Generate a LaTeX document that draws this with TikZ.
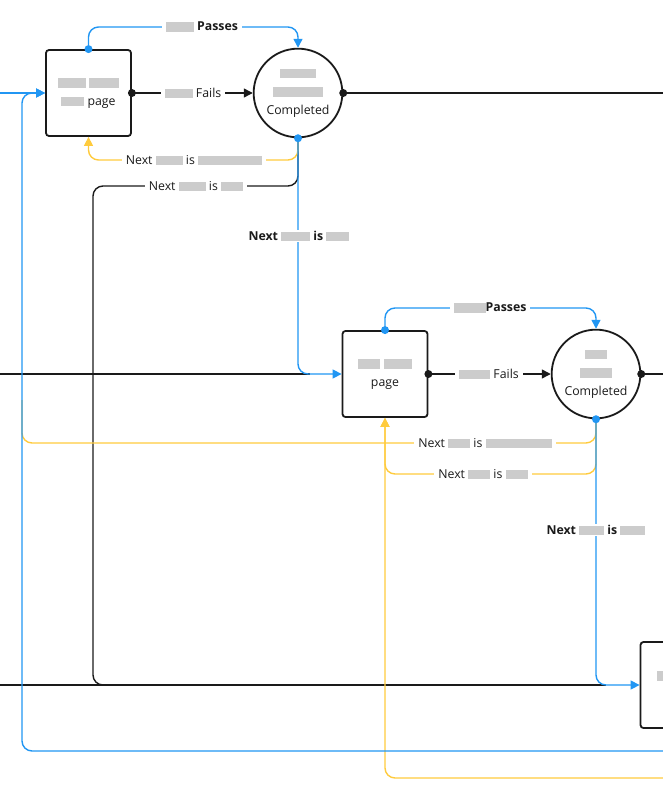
\documentclass[tikz,border=0pt]{standalone}
\usepackage{fontspec}
\setmainfont{Open Sans}
\usetikzlibrary{arrows.meta}
\definecolor{cblue}{HTML}{2196F3}
\definecolor{cyel}{HTML}{FFCB3D}
\definecolor{cblk}{HTML}{1A1A1A}
\newcommand\blr[1]{\textcolor{black!20}{\rule[-1pt]{#1}{9.5pt}}}
\tikzset{
  lbl/.style={fill=white, inner xsep=4pt, inner ysep=1pt, font=\fontsize{12.3}{14}\selectfont, text=cblk},
  stepbox/.style={draw=cblk, line width=1.8pt, rounded corners=3pt, minimum width=85pt, minimum height=86pt, align=center, font=\fontsize{12.3}{18.5}\selectfont, text=cblk},
  statecirc/.style={draw=cblk, line width=1.8pt, circle, minimum size=86pt, align=center, font=\fontsize{12.3}{18.5}\selectfont, text=cblk},
  bl/.style={draw=cblue, line width=1.4pt, rounded corners=10pt},
  yl/.style={draw=cyel, line width=1.4pt, rounded corners=10pt},
  kl/.style={draw=cblk, line width=1.4pt, rounded corners=10pt},
  arr/.style={-{Triangle[length=9pt,width=9pt]}},
  dotb/.style={circle, fill=cblue, inner sep=0pt, minimum size=8pt},
  dotk/.style={circle, fill=cblk, inner sep=0pt, minimum size=8pt},
}
\begin{document}
\begin{tikzpicture}[x=1pt,y=-1pt]
\useasboundingbox (0,0) rectangle (663,800);
\clip (0,0) rectangle (663,800);
% nodes
\node[stepbox] (boxA) at (88.5,93) {\blr{28pt} \blr{30pt}\\\blr{23pt} page};
\node[statecirc] (circA) at (298,93) {\blr{36pt}\\\blr{50pt}\\Completed};
\node[stepbox] (boxB) at (385,374) {\blr{22pt} \blr{28pt}\\page};
\node[statecirc] (circB) at (596,374) {\blr{22pt}\\\blr{32pt}\\Completed};
\node[stepbox] (boxC) at (683,685) {\blr{52pt}\\\blr{40pt}};
% free ends
\coordinate (eA) at (0,93);
\coordinate (eB) at (0,374);
\coordinate (eC) at (0,685);
\coordinate (rA) at (663,93);
\coordinate (rB) at (663,374);
\coordinate (rBlue) at (663,751);
\coordinate (rYel) at (663,778);
% black lines
\draw[kl] (eB) -- (310,374);
\draw[kl] (eC) -- (606,685);
\draw[kl] (circA.east) -- (rA);
\draw[kl] (circB.east) -- (rB);
\draw[kl] (circA.south) |- (93,186) -- (93,685) -- (140,685);
\draw[kl,arr] (boxA.east) -- (circA.west);
\draw[kl,arr] (boxB.east) -- (circB.west);
% yellow lines
\draw[yl] (circB.south) |- (22,443) -- (22,400);
\draw[yl,arr] (circB.south) |- (385,474) -- (boxB.south);
\draw[yl,arr] (rYel) -| (boxB.south);
\draw[yl,arr] (circA.south) |- (88.5,160) -- (boxA.south);
% blue lines
\draw[bl,arr] (eA) -- (boxA.west);
\draw[bl,arr] (rBlue) -| (22,93) -- (boxA.west);
\draw[bl,arr] (boxA.north) -- (88.5,27) -| (circA.north);
\draw[bl,arr] (boxB.north) -- (385,308) -| (circB.north);
\draw[bl,arr] (circA.south) |- (boxB.west);
\draw[bl,arr] (circB.south) |- (boxC.west);
% dots
\node[dotb] at (boxA.north) {};
\node[dotb] at (boxB.north) {};
\node[dotb] at (circA.south) {};
\node[dotb] at (circB.south) {};
\node[dotk] at (boxA.east) {};
\node[dotk] at (boxB.east) {};
\node[dotk] at (circA.east) {};
\node[dotk] at (circB.east) {};
% labels
\node[lbl] (l1) at (202,27) {\blr{28pt} \textbf{Passes}};
\node[lbl] (l2) at (193,93) {\blr{28pt} Fails};
\node[lbl] (l3) at (194,160) {Next \blr{27pt} is \blr{64pt}};
\node[lbl] (l4) at (196,186) {Next \blr{27pt} is \blr{22pt}};
\node[lbl] (l5) at (299,236) {\textbf{Next} \blr{29pt} \textbf{is} \blr{23pt}};
\node[lbl] (l6) at (490,308) {\blr{32pt}\textbf{Passes}};
\node[lbl] (l7) at (489,374) {\blr{31pt} Fails};
\node[lbl] (l8) at (485,443) {Next \blr{22pt} is \blr{66pt}};
\node[lbl] (l9) at (483,474) {Next \blr{22pt} is \blr{22pt}};
\node[lbl] (l10) at (596,530) {\textbf{Next} \blr{25pt} \textbf{is} \blr{25pt}};
\end{tikzpicture}
\end{document}
